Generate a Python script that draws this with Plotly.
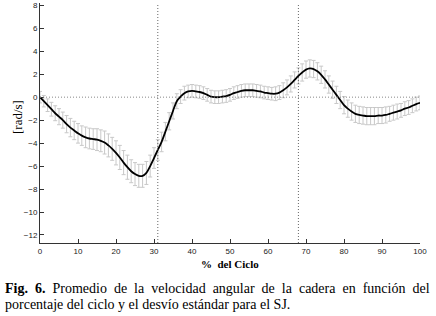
import plotly.graph_objects as go

ciclo = list(range(0, 101))
media = [0.0, -0.35, -0.7, -1.05, -1.4, -1.7, -2.0, -2.35, -2.65, -2.9,
         -3.15, -3.35, -3.5, -3.6, -3.65, -3.7, -3.8, -3.95, -4.2, -4.5,
         -4.85, -5.25, -5.7, -6.1, -6.45, -6.7, -6.85, -6.85, -6.6, -6.0,
         -5.3, -4.6, -3.9, -3.0, -2.1, -1.2, -0.35, 0.05, 0.35, 0.5,
         0.55, 0.5, 0.45, 0.35, 0.2, 0.05, 0.0, 0.0, 0.05, 0.1,
         0.2, 0.35, 0.45, 0.55, 0.6, 0.6, 0.6, 0.55, 0.5, 0.4,
         0.35, 0.3, 0.3, 0.4, 0.6, 0.85, 1.15, 1.5, 1.85, 2.15,
         2.4, 2.5, 2.45, 2.25, 1.95, 1.55, 1.1, 0.65, 0.2, -0.25,
         -0.7, -1.0, -1.25, -1.45, -1.55, -1.6, -1.65, -1.65, -1.65, -1.6,
         -1.6, -1.55, -1.45, -1.35, -1.25, -1.15, -1.0, -0.9, -0.75, -0.6,
         -0.5]
desvio = [0.5, 0.5, 0.55, 0.6, 0.65, 0.7, 0.7, 0.75, 0.8, 0.8,
          0.85, 0.85, 0.9, 0.9, 0.9, 0.95, 0.95, 1.0, 1.0, 1.0,
          1.05, 1.05, 1.05, 1.05, 1.0, 1.0, 1.0, 1.0, 1.0, 0.95,
          0.9, 0.9, 0.85, 0.8, 0.75, 0.7, 0.65, 0.6, 0.6, 0.55,
          0.55, 0.55, 0.55, 0.55, 0.55, 0.55, 0.55, 0.55, 0.55, 0.55,
          0.55, 0.55, 0.55, 0.55, 0.55, 0.55, 0.55, 0.55, 0.55, 0.55,
          0.55, 0.55, 0.6, 0.6, 0.65, 0.65, 0.7, 0.7, 0.7, 0.75,
          0.75, 0.75, 0.75, 0.75, 0.75, 0.75, 0.75, 0.75, 0.75, 0.75,
          0.75, 0.75, 0.75, 0.75, 0.75, 0.75, 0.75, 0.75, 0.75, 0.7,
          0.7, 0.7, 0.65, 0.65, 0.65, 0.6, 0.6, 0.6, 0.6, 0.6,
          0.6]
x_ticks = [0, 10, 20, 30, 40, 50, 60, 70, 80, 90, 100]
y_ticks = [8, 6, 4, 2, 0, -2, -4, -6, -8, -10, -12]
lineas_fase = [31, 68]

fig = go.Figure()
fig.add_trace(go.Scatter(
    x=ciclo, y=media, mode="lines",
    line=dict(color="rgba(0,0,0,0)", width=0),
    error_y=dict(type="data", array=desvio, visible=True,
                 color="#c8c8c8", thickness=1, width=2),
    hoverinfo="skip", showlegend=False))
fig.add_trace(go.Scatter(
    x=ciclo, y=media, mode="lines",
    line=dict(color="black", width=1.8, shape="spline"),
    showlegend=False))

for xv in lineas_fase:
    fig.add_shape(type="line", x0=xv, x1=xv, y0=0, y1=1, xref="x", yref="paper",
                  line=dict(color="#666666", width=1, dash="1px,2px"))
fig.add_shape(type="line", x0=0, x1=1, y0=0, y1=0, xref="paper", yref="y",
              line=dict(color="#888888", width=1, dash="1px,2px"))

tickfont = dict(family="Liberation Sans, Arial", size=8, color="#222222")
fig.update_xaxes(range=[0, 100], tickvals=x_ticks, ticks="inside", ticklen=4,
                 tickcolor="#333333", showline=True, linecolor="#333333",
                 linewidth=1, showgrid=False, zeroline=False, tickfont=tickfont,
                 automargin=False)
fig.update_yaxes(range=[-12.7, 8.2], tickvals=y_ticks, ticks="inside", ticklen=4,
                 tickcolor="#333333", showline=True, linecolor="#333333",
                 linewidth=1, showgrid=False, zeroline=False, tickfont=tickfont,
                 automargin=False)

serif = "Liberation Serif, Times New Roman, serif"
fig.update_layout(
    template="none",
    width=436, height=316,
    margin=dict(l=40, r=16, t=3, b=73),
    paper_bgcolor="white", plot_bgcolor="white",
    annotations=[
        dict(text="[rad/s]", x=-0.0605, y=0.525, xref="paper", yref="paper",
             showarrow=False, textangle=-90, xanchor="center", yanchor="middle",
             font=dict(family=serif, size=13, color="black")),
        dict(text="<b>%  del Ciclo</b>", x=0.5, y=-0.0875, xref="paper", yref="paper",
             showarrow=False, xanchor="center", yanchor="middle",
             font=dict(family=serif, size=11, color="black")),
        dict(text="<b>Fig.  6.</b>  Promedio  de  la  velocidad  angular  de  la  cadera  en  función  del",
             x=-0.097, y=-0.1875, xref="paper", yref="paper", showarrow=False,
             xanchor="left", yanchor="middle",
             font=dict(family=serif, size=14, color="black")),
        dict(text="porcentaje del ciclo y el desvío estándar para el SJ.",
             x=-0.097, y=-0.258, xref="paper", yref="paper", showarrow=False,
             xanchor="left", yanchor="middle",
             font=dict(family=serif, size=14, color="black")),
    ],
)

fig.write_html("out.html", config={"displayModeBar": False},
               post_script="document.body.style.margin='0';document.body.style.overflow='hidden';")
